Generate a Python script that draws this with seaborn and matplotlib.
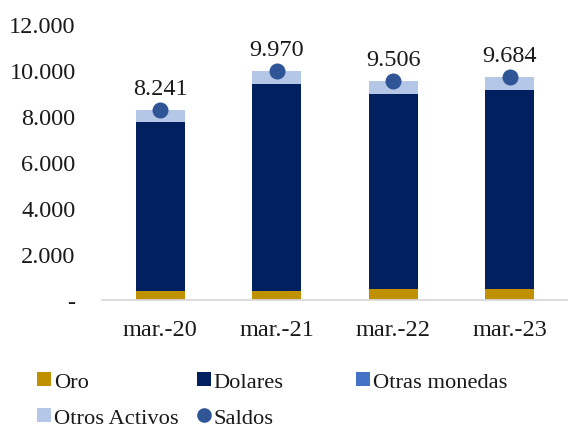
import matplotlib
matplotlib.use("Agg")
import matplotlib.pyplot as plt
from matplotlib.patches import Patch
from matplotlib.lines import Line2D
import numpy as np
import pandas as pd
import seaborn as sns

# Reserve composition (millions), by period
periods = ["mar.-20", "mar.-21", "mar.-22", "mar.-23"]
oro = [380, 390, 470, 480]
dolares = [7350, 9000, 8480, 8630]
otras_monedas = [10, 5, 5, 5]
otros_activos = [501, 575, 551, 569]
saldos = [8241, 9970, 9506, 9684]

y_ticks = [0, 2000, 4000, 6000, 8000, 10000, 12000]

colors = {
    "Oro": "#BF9000",
    "Dolares": "#002060",
    "Otras monedas": "#4472C4",
    "Otros Activos": "#B4C7E7",
    "Saldos": "#2F5597",
}

sns.set_theme(style="white")
plt.rcParams["font.family"] = ["Liberation Serif", "DejaVu Serif"]
FS = 17.5
LEG_FS = 16.2

df = pd.DataFrame({
    "periodo": periods,
    "Oro": oro,
    "Dolares": dolares,
    "Otras monedas": otras_monedas,
    "Otros Activos": otros_activos,
    "Saldos": saldos,
})

# cumulative heights for a stacked look (tallest drawn first)
layers = ["Oro", "Dolares", "Otras monedas", "Otros Activos"]
cum = df[layers].cumsum(axis=1)

fig = plt.figure(figsize=(5.68, 4.31), dpi=100)
ax = fig.add_axes([0.1796, 0.3016, 0.8204, 0.6404])

for layer in reversed(layers):
    sns.barplot(x=df["periodo"], y=cum[layer], color=colors[layer],
                width=0.42, ax=ax, saturation=1, linewidth=0, zorder=2)

sns.pointplot(x=df["periodo"], y=df["Saldos"], color=colors["Saldos"],
              linestyle="none", marker="o", markersize=9.5,
              errorbar=None, ax=ax, zorder=5)

for i, v in enumerate(saldos):
    ax.annotate(f"{v:,}".replace(",", "."), (i, v), xytext=(0, 11.5),
                textcoords="offset points", ha="center", va="baseline",
                fontsize=FS, color="#1a1a1a", zorder=6)

ax.set_ylim(0, 12000)
ax.set_xlim(-0.5, 3.5)
ax.set_yticks(y_ticks)
ax.set_yticklabels(["-" if t == 0 else f"{t:,}".replace(",", ".") for t in y_ticks])
ax.set_xlabel("")
ax.set_ylabel("")
ax.tick_params(axis="y", length=0, pad=19, labelsize=FS, labelcolor="#1a1a1a")
ax.tick_params(axis="x", length=0, pad=14, labelsize=FS, labelcolor="#1a1a1a")
for s in ["left", "right", "top"]:
    ax.spines[s].set_visible(False)
ax.spines["bottom"].set_color("#d9d9d9")
ax.spines["bottom"].set_linewidth(1.3)
ax.grid(False)

def sq(c):
    return Patch(facecolor=c, edgecolor="none")

dot = Line2D([], [], linestyle="none", marker="o", markersize=9.5,
             color=colors["Saldos"])

legend_kw = dict(frameon=False, fontsize=LEG_FS, handlelength=0.6, handleheight=0.6,
                 handletextpad=0.15, labelspacing=0.7, borderpad=0,
                 borderaxespad=0, loc="upper left")
columns = [
    ([sq(colors["Oro"]), sq(colors["Otros Activos"])], ["Oro", "Otros Activos"], 37),
    ([sq(colors["Dolares"]), dot], ["Dolares", "Saldos"], 197),
    ([sq(colors["Otras monedas"])], ["Otras monedas"], 356),
]
for handles, labels, xpx in columns:
    leg = fig.legend(handles, labels, bbox_to_anchor=(xpx / 568, 1 - 373 / 431),
                     **legend_kw)
    for t in leg.get_texts():
        t.set_color("#1a1a1a")

fig.savefig("out.png", dpi=100)
